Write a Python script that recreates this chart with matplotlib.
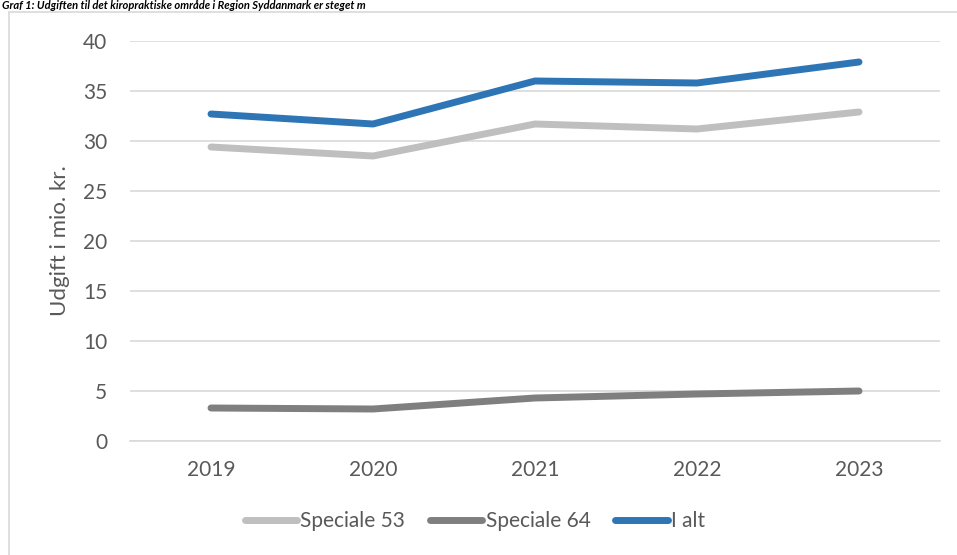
import matplotlib
matplotlib.use("Agg")
import matplotlib.pyplot as plt
from matplotlib.patches import Rectangle

years = ["2019", "2020", "2021", "2022", "2023"]
speciale_53 = [29.4, 28.5, 31.7, 31.2, 32.9]
speciale_64 = [3.3, 3.2, 4.3, 4.7, 5.0]
i_alt = [32.7, 31.7, 36.0, 35.8, 37.9]
y_ticks = [0, 5, 10, 15, 20, 25, 30, 35, 40]
title = "Graf 1: Udgiften til det kiropraktiske område i Region Syddanmark er steget m"

plt.rcParams["font.family"] = ["Lato", "DejaVu Sans"]
txt = "#595959"
grid_c = "#d9d9d9"

W, H = 957, 555
fig = plt.figure(figsize=(W / 100, H / 100), dpi=100)

# chart frame
fig.patches.append(Rectangle((9 / W, -0.05), 1.2, 1 - 12 / H + 0.05,
                             transform=fig.transFigure, fill=False,
                             edgecolor=grid_c, linewidth=1.2, zorder=0))

# heading above the frame
fig.text(2 / W, 1 - 9 / H, title, fontsize=8, weight="bold", style="italic",
         color="black", va="baseline", ha="left")

ax = fig.add_axes([130 / W, 1 - 441 / H, (940 - 130) / W, (441 - 41) / H])
x = range(len(years))
series = [("Speciale 53", speciale_53, "#BFBFBF"),
          ("Speciale 64", speciale_64, "#7F7F7F"),
          ("I alt", i_alt, "#2E75B6")]
for name, vals, col in series:
    ax.plot(x, vals, color=col, linewidth=5, solid_capstyle="round",
            solid_joinstyle="round", label=name, zorder=3)

ax.set_xlim(-0.5, len(years) - 0.5)
ax.set_ylim(0, 40)
ax.set_yticks(y_ticks)
ax.set_xticks(list(x))
ax.set_xticklabels(years)
ax.grid(axis="y", color=grid_c, linewidth=1.2)
ax.set_axisbelow(True)
for s in ["top", "right", "left"]:
    ax.spines[s].set_visible(False)
ax.spines["bottom"].set_color(grid_c)
ax.spines["bottom"].set_linewidth(1.2)
ax.tick_params(axis="both", length=0, labelsize=15, colors=txt)
ax.tick_params(axis="y", pad=16.5)
ax.tick_params(axis="x", pad=14)
ax.set_ylabel("Udgift i mio. kr.", fontsize=16, color=txt)
ax.yaxis.set_label_coords(-60 / 810, 0.5)

leg = fig.legend(loc="center", bbox_to_anchor=(475 / W, 1 - 521 / H), ncol=3,
                 frameon=False, fontsize=15, handlelength=2.5,
                 handletextpad=0.15, columnspacing=1.2, labelcolor=txt)

fig.savefig("out.png", dpi=100)
